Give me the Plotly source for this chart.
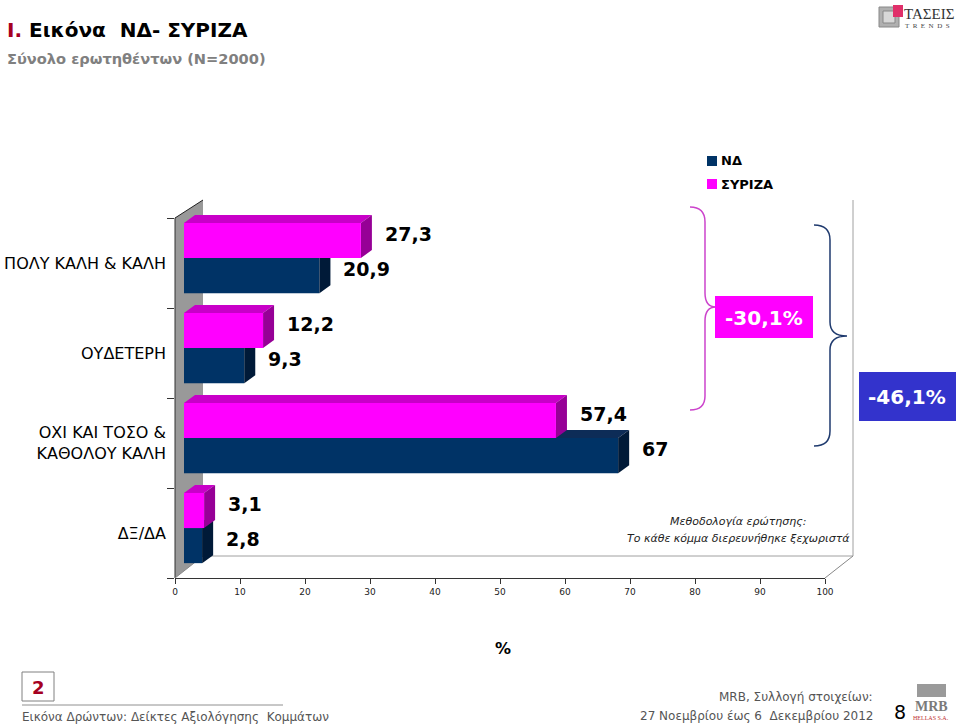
import plotly.graph_objects as go

# ---------------- data ----------------
categories = ["ΠΟΛΥ ΚΑΛΗ & ΚΑΛΗ", "ΟΥΔΕΤΕΡΗ", "ΟΧΙ ΚΑΙ ΤΟΣΟ &<br>ΚΑΘΟΛΟΥ ΚΑΛΗ", "ΔΞ/ΔΑ"]
nd_values = [20.9, 9.3, 67.0, 2.8]
syriza_values = [27.3, 12.2, 57.4, 3.1]
x_ticks = [0, 10, 20, 30, 40, 50, 60, 70, 80, 90, 100]
series_names = ["ΝΔ", "ΣΥΡΙΖΑ"]
change_syriza = "-30,1%"
change_nd = "-46,1%"

# ---------------- style ----------------
FONT = "DejaVu Sans"
NAVY, NAVY_TOP, NAVY_SIDE = "#003366", "#0d2c57", "#001a38"
PINK, PINK_TOP, PINK_SIDE = "#ff00ff", "#c800c8", "#960096"

# plot area in pixels
PL, PR, PT, PB = 175, 825, 200, 578
W, H = 960, 726


def px(x):
    return (x - PL) / (PR - PL)


def py(y):
    return (PB - y) / (PB - PT)


Y_RANGE = [3.5, -0.7]
# bar plane (front faces) axis: 0 at 184 px, 6.48 px per unit
PX_PER_UNIT = 6.48
X2_START = -(184 - PL) / PX_PER_UNIT
X2_RANGE = [X2_START, X2_START + (PR - PL) / PX_PER_UNIT]
BAR_W = 0.39
DX = 11 / PX_PER_UNIT      # depth in x units
DY = 8 / 90                # depth in y units (upwards = smaller y)

n = len(categories)
pink_pos = [i - 0.25 for i in range(n)]
navy_pos = [i + 0.14 for i in range(n)]


def faces(values, centers):
    h = BAR_W / 2
    tx, ty, sx, sy = [], [], [], []
    for v, c in zip(values, centers):
        top = c - h
        bot = c + h
        tx += [0, v, v + DX, DX, 0, None]
        ty += [top, top, top - DY, top - DY, top, None]
        sx += [v, v + DX, v + DX, v, v, None]
        sy += [top, top - DY, bot - DY, bot, top, None]
    return tx, ty, sx, sy


fig = go.Figure()

# anchor trace for the visible axes
fig.add_trace(go.Scatter(x=[0], y=[0], mode="markers", marker=dict(opacity=0),
                         showlegend=False, hoverinfo="skip", xaxis="x", yaxis="y"))

# ND bars + 3D faces (subplot x2/y2)
ntx, nty, nsx, nsy = faces(nd_values, navy_pos)
fig.add_trace(go.Bar(x=nd_values, y=navy_pos, orientation="h", width=BAR_W,
                     marker=dict(color=NAVY, line=dict(width=0)), name=series_names[0],
                     showlegend=False, xaxis="x2", yaxis="y2"))
fig.add_trace(go.Scatter(x=ntx, y=nty, mode="lines", fill="toself", fillcolor=NAVY_TOP,
                         line=dict(width=0), showlegend=False, hoverinfo="skip",
                         xaxis="x2", yaxis="y2"))
fig.add_trace(go.Scatter(x=nsx, y=nsy, mode="lines", fill="toself", fillcolor=NAVY_SIDE,
                         line=dict(width=0), showlegend=False, hoverinfo="skip",
                         xaxis="x2", yaxis="y2"))
# SYRIZA faces
ptx, pty, psx, psy = faces(syriza_values, pink_pos)
fig.add_trace(go.Scatter(x=ptx, y=pty, mode="lines", fill="toself", fillcolor=PINK_TOP,
                         line=dict(width=0), showlegend=False, hoverinfo="skip",
                         xaxis="x2", yaxis="y2"))
fig.add_trace(go.Scatter(x=psx, y=psy, mode="lines", fill="toself", fillcolor=PINK_SIDE,
                         line=dict(width=0), showlegend=False, hoverinfo="skip",
                         xaxis="x2", yaxis="y2"))
# SYRIZA front faces on top (subplot x3/y3)
fig.add_trace(go.Bar(x=syriza_values, y=pink_pos, orientation="h", width=BAR_W,
                     marker=dict(color=PINK, line=dict(width=0)), name=series_names[1],
                     showlegend=False, xaxis="x3", yaxis="y3"))

# ---------------- shapes (3D box) ----------------
shapes = []


def path_px(cmds):
    out = []
    for c in cmds:
        if isinstance(c, str):
            out.append(c)
        else:
            out.append(f"{px(c[0]):.5f},{py(c[1]):.5f}")
    return " ".join(out)


# left gray wall
shapes.append(dict(type="path", xref="paper", yref="paper", layer="below",
                   path=path_px(["M", (175, 218), "L", (203, 200), "L", (203, 556), "L", (175, 578), "Z"]),
                   fillcolor="#999999", line=dict(width=0)))
line_specs = [
    ((175, 218), (175, 578), "#333333"),
    ((175, 218), (203, 200), "#222222"),
    ((175, 578), (203, 556), "#888888"),
    ((203, 556), (853, 556), "#a0a0a0"),
    ((825, 578), (853, 556), "#888888"),
    ((853, 200), (853, 556), "#a0a0a0"),
]
for (x0, y0), (x1, y1), col in line_specs:
    shapes.append(dict(type="line", xref="paper", yref="paper", layer="below",
                       x0=px(x0), y0=py(y0), x1=px(x1), y1=py(y1),
                       line=dict(color=col, width=1)))

# braces
shapes.append(dict(type="path", xref="paper", yref="paper",
                   path=path_px(["M", (690, 207), "Q", (705, 207), (705, 222), "L", (705, 293),
                                 "Q", (705, 307), (716, 307), "Q", (705, 307), (705, 321),
                                 "L", (705, 396), "Q", (705, 410), (690, 410)]),
                   line=dict(color="#cc44cc", width=1.5)))
shapes.append(dict(type="path", xref="paper", yref="paper",
                   path=path_px(["M", (814, 225), "Q", (830, 225), (830, 240), "L", (830, 322),
                                 "Q", (830, 336), (847, 336), "Q", (830, 336), (830, 350),
                                 "L", (830, 431), "Q", (830, 446), (814, 446)]),
                   line=dict(color="#1f3a6e", width=1.5)))
# change boxes
shapes.append(dict(type="rect", xref="paper", yref="paper",
                   x0=px(715), x1=px(813), y0=py(338), y1=py(296),
                   fillcolor="#ff00ff", line=dict(width=0)))
shapes.append(dict(type="rect", xref="paper", yref="paper",
                   x0=px(859), x1=px(956), y0=py(421), y1=py(372),
                   fillcolor="#3333cc", line=dict(width=0)))
# legend squares
shapes.append(dict(type="rect", xref="paper", yref="paper",
                   x0=px(707), x1=px(717), y0=py(166), y1=py(156),
                   fillcolor=NAVY, line=dict(width=0)))
shapes.append(dict(type="rect", xref="paper", yref="paper",
                   x0=px(707), x1=px(717), y0=py(189), y1=py(179),
                   fillcolor=PINK, line=dict(width=0)))
# footer page box and rule
shapes.append(dict(type="rect", xref="paper", yref="paper",
                   x0=px(22), x1=px(54), y0=py(701), y1=py(672),
                   fillcolor="rgba(0,0,0,0)", line=dict(color="#808080", width=1)))
shapes.append(dict(type="line", xref="paper", yref="paper",
                   x0=px(22), x1=px(283), y0=py(705), y1=py(705),
                   line=dict(color="#909090", width=1)))
# TASEIS logo icon
shapes.append(dict(type="rect", xref="paper", yref="paper",
                   x0=px(879), x1=px(899), y0=py(27), y1=py(7),
                   fillcolor="#b0b0b0", line=dict(color="#888888", width=1)))
shapes.append(dict(type="rect", xref="paper", yref="paper",
                   x0=px(883), x1=px(895), y0=py(23), y1=py(11),
                   fillcolor="#d8d8d8", line=dict(color="#888888", width=1)))
shapes.append(dict(type="rect", xref="paper", yref="paper",
                   x0=px(893), x1=px(903), y0=py(17), y1=py(5),
                   fillcolor="#e0306a", line=dict(width=0)))
# MRB logo bar
shapes.append(dict(type="rect", xref="paper", yref="paper",
                   x0=px(917), x1=px(946), y0=py(697), y1=py(684),
                   fillcolor="#9a9a9a", line=dict(width=0)))

# ---------------- annotations ----------------
ann = []


def text_px(x, y, text, size, color="#000000", bold=False, italic=False,
            anchor="left", family=FONT):
    t = text
    if bold:
        t = f"<b>{t}</b>"
    if italic:
        t = f"<i>{t}</i>"
    ann.append(dict(x=px(x), y=py(y), xref="paper", yref="paper", text=t,
                    showarrow=False, xanchor=anchor, yanchor="middle",
                    font=dict(family=family, size=size, color=color)))


# data labels
for v, c in zip(syriza_values, pink_pos):
    lab = f"{v:g}".replace(".", ",")
    ann.append(dict(x=v, y=c, xref="x2", yref="y2", text=f"<b>{lab}</b>",
                    showarrow=False, xanchor="left", yanchor="middle", xshift=22, yshift=7,
                    font=dict(family=FONT, size=19, color="#000000")))
for v, c in zip(nd_values, navy_pos):
    lab = f"{v:g}".replace(".", ",")
    ann.append(dict(x=v, y=c, xref="x2", yref="y2", text=f"<b>{lab}</b>",
                    showarrow=False, xanchor="left", yanchor="middle", xshift=22, yshift=7,
                    font=dict(family=FONT, size=19, color="#000000")))

# title and subtitle
ann.append(dict(x=px(5), y=py(30), xref="paper", yref="paper", showarrow=False,
                xanchor="left", yanchor="middle",
                text="<b><span style='color:#a50021'>I.</span> Εικόνα  ΝΔ- ΣΥΡΙΖΑ</b>",
                font=dict(family=FONT, size=20, color="#000000")))
text_px(5, 58, "Σύνολο ερωτηθέντων (N=2000)", 14.6, color="#808080", bold=True)

# legend text
text_px(719, 161, series_names[0], 13, bold=True)
text_px(719, 184, series_names[1], 13, bold=True)

# change boxes text
text_px(764, 318, change_syriza, 20, color="#ffffff", bold=True, anchor="center")
text_px(907, 397, change_nd, 20, color="#ffffff", bold=True, anchor="center")

# methodology note
text_px(738, 521, "Μεθοδολογία ερώτησης:", 11, color="#222222", italic=True, anchor="center")
text_px(738, 538, "Το κάθε κόμμα διερευνήθηκε ξεχωριστά", 11, color="#222222", italic=True, anchor="center")

# x-axis title
text_px(503, 648, "%", 16, bold=True, anchor="center")

# footer
text_px(38, 687, "2", 18, color="#a50021", bold=True, anchor="center")
text_px(20, 717, "Εικόνα Δρώντων: Δείκτες Αξιολόγησης  Κομμάτων", 12, color="#555555")
text_px(875, 697, "MRB, Συλλογή στοιχείων:", 12, color="#555555", anchor="right")
text_px(875, 716, "27 Νοεμβρίου έως 6  Δεκεμβρίου 2012", 12, color="#555555", anchor="right")
text_px(900, 712, "8", 19, color="#000000", anchor="center")
text_px(931, 706, "MRB", 14, color="#7a7a7a", bold=True, anchor="center", family="Liberation Serif")
text_px(931, 718, "HELLAS S.A.", 6, color="#c03030", anchor="center", family="Liberation Serif")

# TASEIS logo text
text_px(902, 14, "ΤΑΣΕΙΣ", 15, color="#333333", family="Liberation Serif")
text_px(903, 26, "T  R  E  N  D  S", 7, color="#444444", family="Liberation Serif")

# ---------------- layout ----------------
fig.update_layout(
    width=W, height=H,
    margin=dict(l=PL, r=W - PR, t=PT, b=H - PB, pad=0, autoexpand=False),
    paper_bgcolor="white", plot_bgcolor="rgba(0,0,0,0)",
    showlegend=False, barmode="overlay",
    shapes=shapes, annotations=ann,
    font=dict(family=FONT, color="#000000"),
    xaxis=dict(domain=[0, 1], range=[0, 100], tickvals=x_ticks,
               ticks="outside", ticklen=5, tickcolor="#333333",
               showline=True, linecolor="#333333", linewidth=1,
               showgrid=False, zeroline=False, anchor="y", automargin=False,
               tickfont=dict(family=FONT, size=9, color="#222222")),
    yaxis=dict(domain=[0, 1], range=Y_RANGE, tickvals=list(range(n)), ticktext=categories,
               ticks="", showline=False, showgrid=False, zeroline=False, anchor="x",
               ticklabelstandoff=8, automargin=False,
               minor=dict(tickvals=[-0.5, 0.5, 1.5, 2.5, 3.5], ticks="outside",
                          ticklen=7, tickcolor="#333333", showgrid=False),
               tickfont=dict(family=FONT, size=16, color="#000000")),
    xaxis2=dict(overlaying="x", range=X2_RANGE, visible=False, anchor="y2"),
    yaxis2=dict(overlaying="y", range=Y_RANGE, visible=False, anchor="x2"),
    xaxis3=dict(overlaying="x", range=X2_RANGE, visible=False, anchor="y3"),
    yaxis3=dict(overlaying="y", range=Y_RANGE, visible=False, anchor="x3"),
)

fig.write_html("out.html", config={"displayModeBar": False},
               post_script="document.body.style.margin='0';document.body.style.overflow='hidden';")
